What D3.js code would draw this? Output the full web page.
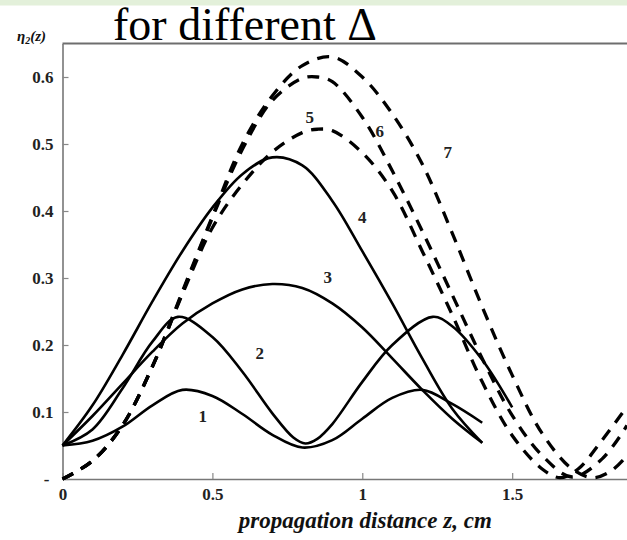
<!DOCTYPE html>
<html>
<head>
<meta charset="utf-8">
<script src="https://cdn.jsdelivr.net/npm/d3@7"></script>
<style>
  body { margin: 0; background: #fff; }
  svg { display: block; }
</style>
</head>
<body>
<svg id="chart" width="627" height="540"></svg>
<script>
// Efficiency eta2(z) along the propagation distance, curves 1-7

// propagation distance samples (cm) and efficiency values, solid curves
const z1 = [0, 0.1, 0.2, 0.3, 0.4, 0.5, 0.6, 0.7, 0.8, 0.9, 1.0, 1.1, 1.2, 1.3, 1.4];
const eta1 = [0.050, 0.057, 0.078, 0.110, 0.133, 0.124, 0.097, 0.066, 0.047, 0.058, 0.090, 0.121, 0.133, 0.112, 0.084];

const z2 = [0, 0.1, 0.2, 0.3, 0.385, 0.5, 0.6, 0.7, 0.77, 0.81, 0.85, 0.9, 1.0, 1.1, 1.235, 1.3, 1.4, 1.5];
const eta2 = [0.050, 0.074, 0.135, 0.205, 0.242, 0.212, 0.160, 0.098, 0.062, 0.053, 0.060, 0.082, 0.145, 0.200, 0.242, 0.228, 0.178, 0.107];

const z3 = [0, 0.1, 0.2, 0.3, 0.4, 0.5, 0.6, 0.7, 0.8, 0.9, 1.0, 1.1, 1.2, 1.3, 1.4];
const eta3 = [0.050, 0.094, 0.142, 0.190, 0.232, 0.262, 0.283, 0.291, 0.285, 0.262, 0.226, 0.180, 0.133, 0.090, 0.054];

const z4 = [0, 0.1, 0.2, 0.3, 0.4, 0.5, 0.6, 0.7, 0.8, 0.9, 1.0, 1.1, 1.2, 1.3, 1.4];
const eta4 = [0.050, 0.110, 0.185, 0.265, 0.340, 0.405, 0.455, 0.480, 0.468, 0.415, 0.340, 0.262, 0.180, 0.105, 0.054];

// dashed curves
const z5 = [0, 0.1, 0.2, 0.3, 0.4, 0.5, 0.6, 0.7, 0.8, 0.85, 0.9, 1.0, 1.1, 1.2, 1.3, 1.4, 1.5, 1.6, 1.66, 1.72, 1.8, 1.883];
const eta5 = [0, 0.027, 0.080, 0.168, 0.276, 0.375, 0.440, 0.488, 0.517, 0.522, 0.520, 0.487, 0.430, 0.340, 0.245, 0.145, 0.065, 0.015, 0.002, 0.015, 0.058, 0.108];

const z6 = [0, 0.1, 0.2, 0.3, 0.4, 0.5, 0.6, 0.7, 0.8, 0.85, 0.9, 1.0, 1.1, 1.2, 1.3, 1.4, 1.5, 1.6, 1.7, 1.8, 1.883];
const eta6 = [0, 0.027, 0.080, 0.168, 0.278, 0.390, 0.492, 0.565, 0.598, 0.600, 0.593, 0.540, 0.460, 0.370, 0.275, 0.180, 0.095, 0.035, 0.003, 0.030, 0.080];

const z7 = [0, 0.1, 0.2, 0.3, 0.4, 0.5, 0.6, 0.7, 0.8, 0.9, 1.0, 1.1, 1.2, 1.3, 1.4, 1.5, 1.6, 1.7, 1.77, 1.83, 1.883];
const eta7 = [0, 0.027, 0.080, 0.168, 0.280, 0.392, 0.500, 0.572, 0.617, 0.630, 0.600, 0.545, 0.470, 0.367, 0.257, 0.155, 0.068, 0.015, 0.002, 0.012, 0.035];

const curveNames = ["1", "2", "3", "4", "5", "6", "7"];
const curveZ = [z1, z2, z3, z4, z5, z6, z7];
const curveEta = [eta1, eta2, eta3, eta4, eta5, eta6, eta7];
const curveDashed = [false, false, false, false, true, true, true];

// where each curve number sits, in data units
const labelZ = [0.468, 0.658, 0.885, 1.0, 0.825, 1.058, 1.285];
const labelEta = [0.093, 0.188, 0.301, 0.39, 0.539, 0.518, 0.488];

// axis ticks
const xTicks = [0, 0.5, 1, 1.5];
const xTickLabels = ["0", "0.5", "1", "1.5"];
const yTicks = [0, 0.1, 0.2, 0.3, 0.4, 0.5, 0.6];
const yTickLabels = ["-", "0.1", "0.2", "0.3", "0.4", "0.5", "0.6"];

const SERIF = "'Liberation Serif', 'Times New Roman', Times, serif";
const svg = d3.select("#chart");
const W = 627, H = 540;

// light band at the top edge
svg.append("rect").attr("x", 0).attr("y", 0).attr("width", W).attr("height", 5.5)
  .attr("fill", "#e3f0da");

const x = d3.scaleLinear().domain([0, 1.883]).range([62.5, 627]);
const y = d3.scaleLinear().domain([0, 0.65]).range([479, 43.5]);

// heading
svg.append("text")
  .attr("x", 113).attr("y", 40)
  .attr("font-family", SERIF)
  .attr("font-size", 46)
  .attr("fill", "#000")
  .text("for different \u0394");

// top frame line
svg.append("line")
  .attr("x1", x(0)).attr("x2", W)
  .attr("y1", y(0.65)).attr("y2", y(0.65))
  .attr("stroke", "#6e6e6e").attr("stroke-width", 2);

// x axis
const xAxis = d3.axisBottom(x)
  .tickValues(xTicks)
  .tickFormat((d, i) => xTickLabels[i])
  .tickSizeInner(-6).tickSizeOuter(0).tickPadding(9);
const gx = svg.append("g").attr("transform", `translate(0,${y(0)})`).call(xAxis);

// y axis
const yAxis = d3.axisLeft(y)
  .tickValues(yTicks)
  .tickFormat((d, i) => yTickLabels[i])
  .tickSizeInner(-6).tickSizeOuter(0).tickPadding(9);
const gy = svg.append("g").attr("transform", `translate(${x(0)},0)`).call(yAxis);

[gx, gy].forEach(g => {
  g.select(".domain").attr("stroke", "#777").attr("stroke-width", 1.6);
  g.selectAll(".tick line").attr("stroke", "#888").attr("stroke-width", 1.2);
  g.selectAll(".tick text")
    .attr("font-family", SERIF)
    .attr("font-size", 17).attr("font-weight", "bold").attr("fill", "#222");
});
// the zero mark on the vertical axis sits a little further out
gy.selectAll(".tick text").filter(d => d === 0).attr("dx", -4);

// axis titles
svg.append("text")
  .attr("x", x(1.01)).attr("y", 528)
  .attr("text-anchor", "middle")
  .attr("font-family", SERIF)
  .attr("font-size", 23).attr("font-weight", "bold").attr("font-style", "italic")
  .attr("fill", "#111")
  .text("propagation distance z, cm");

const yTitle = svg.append("text")
  .attr("x", 17).attr("y", 41)
  .attr("font-family", SERIF)
  .attr("font-size", 15).attr("font-weight", "bold").attr("font-style", "italic")
  .attr("fill", "#111");
yTitle.append("tspan").text("\u03b7");
yTitle.append("tspan").attr("font-size", 10).attr("dy", 3).text("2");
yTitle.append("tspan").attr("dy", -3).text("(z)");

// curves
const line = d3.line()
  .x(d => x(d[0]))
  .y(d => y(d[1]))
  .curve(d3.curveCatmullRom.alpha(0.5));

const plot = svg.append("g");
curveNames.forEach((name, i) => {
  const pts = curveZ[i].map((z, j) => [z, curveEta[i][j]]);
  plot.append("path")
    .datum(pts)
    .attr("d", line)
    .attr("fill", "none")
    .attr("stroke", "#000")
    .attr("stroke-width", curveDashed[i] ? 3.3 : 2.6)
    .attr("stroke-dasharray", curveDashed[i] ? "12,9" : null)
    .attr("stroke-linecap", "butt")
    .attr("stroke-linejoin", "round");
});

// curve numbers
svg.append("g").selectAll("text")
  .data(curveNames)
  .join("text")
  .attr("x", (d, i) => x(labelZ[i]))
  .attr("y", (d, i) => y(labelEta[i]))
  .attr("text-anchor", "middle")
  .attr("dominant-baseline", "central")
  .attr("font-family", SERIF)
  .attr("font-size", 17).attr("font-weight", "bold")
  .attr("fill", "#222")
  .text(d => d);
</script>
</body>
</html>
